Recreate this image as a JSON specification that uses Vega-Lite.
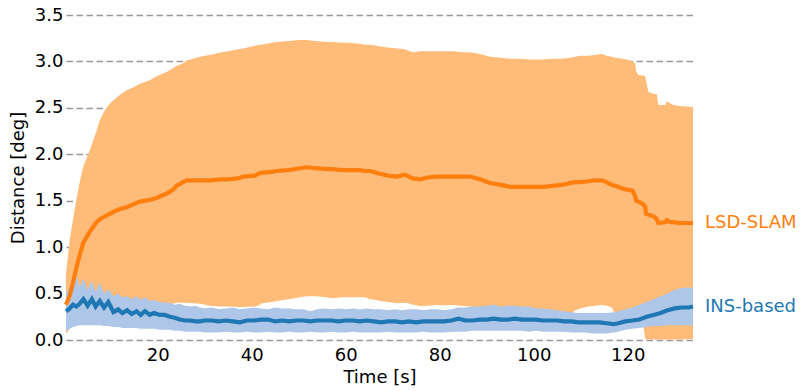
{
  "$schema": "https://vega.github.io/schema/vega-lite/v6.json",
  "width": 627,
  "height": 325,
  "autosize": {"type": "none"},
  "padding": {"left": 66, "top": 15, "right": 107, "bottom": 51},
  "datasets": {
    "lsd": [
      {"t":0.5,"lo":0.07,"m":0.38,"hi":0.72},
      {"t":1.3,"lo":0.12,"m":0.48,"hi":1.08},
      {"t":2.0,"lo":0.2,"m":0.62,"hi":1.30},
      {"t":2.8,"lo":0.22,"m":0.80,"hi":1.54},
      {"t":3.5,"lo":0.24,"m":0.93,"hi":1.72},
      {"t":4.2,"lo":0.25,"m":1.05,"hi":1.87},
      {"t":4.9,"lo":0.27,"m":1.11,"hi":1.96},
      {"t":5.6,"lo":0.29,"m":1.17,"hi":2.05},
      {"t":6.3,"lo":0.30,"m":1.22,"hi":2.15},
      {"t":7.0,"lo":0.31,"m":1.27,"hi":2.25},
      {"t":7.7,"lo":0.32,"m":1.30,"hi":2.37},
      {"t":8.7,"lo":0.33,"m":1.33,"hi":2.47},
      {"t":9.9,"lo":0.34,"m":1.36,"hi":2.55},
      {"t":11,"lo":0.35,"m":1.39,"hi":2.60},
      {"t":12,"lo":0.35,"m":1.41,"hi":2.64},
      {"t":13.4,"lo":0.36,"m":1.43,"hi":2.69},
      {"t":14.8,"lo":0.36,"m":1.46,"hi":2.72},
      {"t":16.2,"lo":0.37,"m":1.49,"hi":2.76},
      {"t":18.4,"lo":0.38,"m":1.51,"hi":2.80},
      {"t":19.8,"lo":0.38,"m":1.53,"hi":2.84},
      {"t":22,"lo":0.39,"m":1.58,"hi":2.89},
      {"t":23.3,"lo":0.39,"m":1.62,"hi":2.93},
      {"t":24,"lo":0.40,"m":1.66,"hi":2.95},
      {"t":25.4,"lo":0.40,"m":1.70,"hi":2.98},
      {"t":26.2,"lo":0.40,"m":1.72,"hi":3.01},
      {"t":29,"lo":0.39,"m":1.72,"hi":3.05},
      {"t":30.1,"lo":0.38,"m":1.72,"hi":3.06},
      {"t":31.1,"lo":0.37,"m":1.72,"hi":3.07},
      {"t":33.6,"lo":0.36,"m":1.73,"hi":3.10},
      {"t":35,"lo":0.36,"m":1.73,"hi":3.11},
      {"t":37.1,"lo":0.355,"m":1.74,"hi":3.13},
      {"t":38.2,"lo":0.355,"m":1.76,"hi":3.14},
      {"t":40.7,"lo":0.36,"m":1.77,"hi":3.17},
      {"t":41.8,"lo":0.38,"m":1.80,"hi":3.18},
      {"t":42.1,"lo":0.395,"m":1.80,"hi":3.18},
      {"t":44.3,"lo":0.41,"m":1.81,"hi":3.20},
      {"t":45.3,"lo":0.42,"m":1.82,"hi":3.21},
      {"t":47.8,"lo":0.44,"m":1.83,"hi":3.22},
      {"t":50.3,"lo":0.46,"m":1.85,"hi":3.23},
      {"t":51.7,"lo":0.47,"m":1.86,"hi":3.23},
      {"t":53.5,"lo":0.47,"m":1.85,"hi":3.22},
      {"t":56,"lo":0.46,"m":1.84,"hi":3.21},
      {"t":57,"lo":0.45,"m":1.84,"hi":3.21},
      {"t":59.5,"lo":0.46,"m":1.83,"hi":3.20},
      {"t":60.6,"lo":0.46,"m":1.83,"hi":3.20},
      {"t":63,"lo":0.46,"m":1.83,"hi":3.19},
      {"t":64.1,"lo":0.46,"m":1.82,"hi":3.18},
      {"t":65.2,"lo":0.44,"m":1.82,"hi":3.18},
      {"t":66.6,"lo":0.43,"m":1.80,"hi":3.17},
      {"t":67.3,"lo":0.42,"m":1.79,"hi":3.16},
      {"t":69,"lo":0.41,"m":1.77,"hi":3.15},
      {"t":70.9,"lo":0.395,"m":1.76,"hi":3.14},
      {"t":72.6,"lo":0.40,"m":1.78,"hi":3.13},
      {"t":73,"lo":0.40,"m":1.77,"hi":3.12},
      {"t":74.3,"lo":0.38,"m":1.74,"hi":3.10},
      {"t":75.8,"lo":0.365,"m":1.73,"hi":3.11},
      {"t":77.5,"lo":0.37,"m":1.75,"hi":3.11},
      {"t":79.4,"lo":0.377,"m":1.76,"hi":3.11},
      {"t":81,"lo":0.375,"m":1.76,"hi":3.11},
      {"t":82.9,"lo":0.377,"m":1.76,"hi":3.11},
      {"t":84.5,"lo":0.37,"m":1.76,"hi":3.10},
      {"t":86.4,"lo":0.36,"m":1.76,"hi":3.10},
      {"t":88.6,"lo":0.34,"m":1.73,"hi":3.08},
      {"t":90.7,"lo":0.31,"m":1.69,"hi":3.05},
      {"t":93,"lo":0.30,"m":1.67,"hi":3.04},
      {"t":95,"lo":0.29,"m":1.65,"hi":3.03},
      {"t":97,"lo":0.29,"m":1.65,"hi":3.03},
      {"t":99,"lo":0.28,"m":1.65,"hi":3.02},
      {"t":102,"lo":0.27,"m":1.65,"hi":3.02},
      {"t":104,"lo":0.27,"m":1.66,"hi":3.03},
      {"t":106,"lo":0.26,"m":1.67,"hi":3.03},
      {"t":107.7,"lo":0.27,"m":1.69,"hi":3.04},
      {"t":108.8,"lo":0.32,"m":1.70,"hi":3.05},
      {"t":110,"lo":0.34,"m":1.70,"hi":3.06},
      {"t":111.6,"lo":0.36,"m":1.71,"hi":3.06},
      {"t":113,"lo":0.37,"m":1.72,"hi":3.07},
      {"t":114.5,"lo":0.377,"m":1.72,"hi":3.08},
      {"t":115.5,"lo":0.37,"m":1.70,"hi":3.06},
      {"t":116.6,"lo":0.35,"m":1.67,"hi":3.05},
      {"t":117.4,"lo":0.27,"m":1.66,"hi":3.04},
      {"t":119,"lo":0.27,"m":1.63,"hi":3.03},
      {"t":119.8,"lo":0.27,"m":1.62,"hi":3.02},
      {"t":121,"lo":0.26,"m":1.61,"hi":3.00},
      {"t":121.6,"lo":0.26,"m":1.55,"hi":2.98},
      {"t":121.8,"lo":0.26,"m":1.50,"hi":2.90},
      {"t":122.3,"lo":0.25,"m":1.49,"hi":2.85},
      {"t":123.1,"lo":0.24,"m":1.47,"hi":2.85},
      {"t":123.7,"lo":0.02,"m":1.44,"hi":2.84},
      {"t":123.9,"lo":0.005,"m":1.36,"hi":2.80},
      {"t":124.4,"lo":0.005,"m":1.35,"hi":2.67},
      {"t":125.6,"lo":0.005,"m":1.33,"hi":2.65},
      {"t":126.2,"lo":0.005,"m":1.30,"hi":2.65},
      {"t":126.5,"lo":0.005,"m":1.26,"hi":2.53},
      {"t":128,"lo":0.005,"m":1.27,"hi":2.53},
      {"t":128.3,"lo":0.005,"m":1.29,"hi":2.57},
      {"t":129,"lo":0.005,"m":1.27,"hi":2.55},
      {"t":129.7,"lo":0.005,"m":1.27,"hi":2.53},
      {"t":131,"lo":0.005,"m":1.26,"hi":2.52},
      {"t":133.9,"lo":0.01,"m":1.26,"hi":2.51}
    ],
    "ins": [
      {"t":0.5,"lo":0.10,"m":0.31,"hi":0.50},
      {"t":1.3,"lo":0.12,"m":0.34,"hi":0.58},
      {"t":2.0,"lo":0.14,"m":0.38,"hi":0.61},
      {"t":2.7,"lo":0.15,"m":0.36,"hi":0.70},
      {"t":3.4,"lo":0.16,"m":0.39,"hi":0.57},
      {"t":4.2,"lo":0.16,"m":0.44,"hi":0.66},
      {"t":5.1,"lo":0.16,"m":0.37,"hi":0.54},
      {"t":6.0,"lo":0.16,"m":0.44,"hi":0.64},
      {"t":6.8,"lo":0.16,"m":0.36,"hi":0.52},
      {"t":7.7,"lo":0.16,"m":0.42,"hi":0.62},
      {"t":8.6,"lo":0.15,"m":0.35,"hi":0.50},
      {"t":9.5,"lo":0.15,"m":0.41,"hi":0.55},
      {"t":10.6,"lo":0.14,"m":0.30,"hi":0.47},
      {"t":11.6,"lo":0.14,"m":0.33,"hi":0.50},
      {"t":12.5,"lo":0.13,"m":0.29,"hi":0.46},
      {"t":13.5,"lo":0.13,"m":0.32,"hi":0.47},
      {"t":14.5,"lo":0.13,"m":0.28,"hi":0.44},
      {"t":15.5,"lo":0.13,"m":0.31,"hi":0.47},
      {"t":16.4,"lo":0.12,"m":0.27,"hi":0.43},
      {"t":17.3,"lo":0.12,"m":0.31,"hi":0.46},
      {"t":18.3,"lo":0.12,"m":0.27,"hi":0.42},
      {"t":19.2,"lo":0.12,"m":0.29,"hi":0.43},
      {"t":20.5,"lo":0.11,"m":0.27,"hi":0.41},
      {"t":21.5,"lo":0.11,"m":0.27,"hi":0.40},
      {"t":22.6,"lo":0.11,"m":0.25,"hi":0.40},
      {"t":23.6,"lo":0.10,"m":0.24,"hi":0.38},
      {"t":24.7,"lo":0.10,"m":0.22,"hi":0.39},
      {"t":25.8,"lo":0.09,"m":0.21,"hi":0.37},
      {"t":27,"lo":0.09,"m":0.21,"hi":0.36},
      {"t":28,"lo":0.09,"m":0.20,"hi":0.37},
      {"t":29,"lo":0.09,"m":0.20,"hi":0.35},
      {"t":30,"lo":0.08,"m":0.21,"hi":0.34},
      {"t":31.5,"lo":0.08,"m":0.21,"hi":0.35},
      {"t":33,"lo":0.08,"m":0.20,"hi":0.33},
      {"t":34.5,"lo":0.09,"m":0.21,"hi":0.34},
      {"t":36,"lo":0.08,"m":0.20,"hi":0.35},
      {"t":37.5,"lo":0.08,"m":0.19,"hi":0.33},
      {"t":39,"lo":0.09,"m":0.21,"hi":0.34},
      {"t":40.5,"lo":0.08,"m":0.21,"hi":0.35},
      {"t":42,"lo":0.08,"m":0.22,"hi":0.34},
      {"t":43.5,"lo":0.09,"m":0.22,"hi":0.33},
      {"t":45,"lo":0.08,"m":0.20,"hi":0.35},
      {"t":46.5,"lo":0.08,"m":0.21,"hi":0.34},
      {"t":48,"lo":0.09,"m":0.20,"hi":0.34},
      {"t":49.5,"lo":0.08,"m":0.21,"hi":0.33},
      {"t":51,"lo":0.08,"m":0.21,"hi":0.33},
      {"t":52.5,"lo":0.09,"m":0.20,"hi":0.31},
      {"t":54,"lo":0.08,"m":0.21,"hi":0.33},
      {"t":55.5,"lo":0.08,"m":0.21,"hi":0.34},
      {"t":57,"lo":0.09,"m":0.21,"hi":0.33},
      {"t":58.5,"lo":0.08,"m":0.20,"hi":0.34},
      {"t":60,"lo":0.08,"m":0.21,"hi":0.33},
      {"t":61.5,"lo":0.09,"m":0.21,"hi":0.34},
      {"t":63,"lo":0.08,"m":0.20,"hi":0.33},
      {"t":64.5,"lo":0.08,"m":0.21,"hi":0.34},
      {"t":66,"lo":0.08,"m":0.20,"hi":0.33},
      {"t":67.5,"lo":0.08,"m":0.19,"hi":0.33},
      {"t":69,"lo":0.09,"m":0.20,"hi":0.32},
      {"t":70.5,"lo":0.08,"m":0.20,"hi":0.33},
      {"t":72,"lo":0.08,"m":0.19,"hi":0.32},
      {"t":73.5,"lo":0.08,"m":0.20,"hi":0.33},
      {"t":75,"lo":0.08,"m":0.19,"hi":0.33},
      {"t":76.5,"lo":0.09,"m":0.20,"hi":0.32},
      {"t":78,"lo":0.08,"m":0.20,"hi":0.33},
      {"t":79.5,"lo":0.08,"m":0.20,"hi":0.33},
      {"t":81,"lo":0.08,"m":0.20,"hi":0.32},
      {"t":82.5,"lo":0.09,"m":0.21,"hi":0.33},
      {"t":84,"lo":0.09,"m":0.23,"hi":0.35},
      {"t":85.5,"lo":0.09,"m":0.21,"hi":0.35},
      {"t":87,"lo":0.10,"m":0.21,"hi":0.36},
      {"t":88.5,"lo":0.10,"m":0.22,"hi":0.36},
      {"t":90,"lo":0.10,"m":0.22,"hi":0.37},
      {"t":91.5,"lo":0.10,"m":0.23,"hi":0.38},
      {"t":93,"lo":0.10,"m":0.22,"hi":0.36},
      {"t":94.5,"lo":0.10,"m":0.22,"hi":0.37},
      {"t":96,"lo":0.10,"m":0.23,"hi":0.37},
      {"t":97.5,"lo":0.10,"m":0.22,"hi":0.36},
      {"t":99,"lo":0.09,"m":0.22,"hi":0.36},
      {"t":100.5,"lo":0.10,"m":0.22,"hi":0.34},
      {"t":102,"lo":0.09,"m":0.21,"hi":0.34},
      {"t":103.5,"lo":0.09,"m":0.21,"hi":0.33},
      {"t":105,"lo":0.09,"m":0.21,"hi":0.32},
      {"t":106.5,"lo":0.09,"m":0.20,"hi":0.31},
      {"t":108,"lo":0.08,"m":0.20,"hi":0.30},
      {"t":109.5,"lo":0.08,"m":0.19,"hi":0.29},
      {"t":111,"lo":0.08,"m":0.19,"hi":0.29},
      {"t":112.5,"lo":0.07,"m":0.19,"hi":0.29},
      {"t":114,"lo":0.07,"m":0.19,"hi":0.29},
      {"t":115.5,"lo":0.07,"m":0.18,"hi":0.29},
      {"t":117,"lo":0.08,"m":0.17,"hi":0.30},
      {"t":118,"lo":0.09,"m":0.18,"hi":0.31},
      {"t":119.5,"lo":0.11,"m":0.20,"hi":0.33},
      {"t":121,"lo":0.12,"m":0.21,"hi":0.35},
      {"t":122.5,"lo":0.13,"m":0.22,"hi":0.38},
      {"t":124,"lo":0.14,"m":0.25,"hi":0.41},
      {"t":125.5,"lo":0.15,"m":0.27,"hi":0.44},
      {"t":127,"lo":0.15,"m":0.29,"hi":0.47},
      {"t":128.5,"lo":0.16,"m":0.32,"hi":0.50},
      {"t":130,"lo":0.16,"m":0.34,"hi":0.54},
      {"t":131.5,"lo":0.16,"m":0.35,"hi":0.56},
      {"t":133,"lo":0.16,"m":0.35,"hi":0.565},
      {"t":133.9,"lo":0.16,"m":0.36,"hi":0.56}
    ],
    "labels": [
      {"t":133.9,"v":1.26,"label":"LSD-SLAM","series":"LSD-SLAM"},
      {"t":133.9,"v":0.36,"label":"INS-based","series":"INS-based"}
    ]
  },
  "layer": [
    {
      "data": {"name": "lsd"},
      "mark": {"type": "area", "color": "#ffbb78", "opacity": 1},
      "encoding": {
        "x": {"field": "t", "type": "quantitative", "scale": {"domain": [0.5, 133.9], "nice": false, "zero": false}, "axis": {"title": "Time [s]", "values": [20, 40, 60, 80, 100, 120]}},
        "y": {"field": "lo", "type": "quantitative", "scale": {"domain": [0, 3.5], "nice": false}, "axis": {"title": "Distance [deg]", "values": [0, 0.5, 1, 1.5, 2, 2.5, 3, 3.5], "format": ".1f"}},
        "y2": {"field": "hi"}
      }
    },
    {
      "data": {"name": "ins"},
      "mark": {"type": "area", "color": "#aec7e8", "opacity": 1},
      "encoding": {
        "x": {"field": "t", "type": "quantitative"},
        "y": {"field": "lo", "type": "quantitative", "axis": {"title": "Distance [deg]"}},
        "y2": {"field": "hi"}
      }
    },
    {
      "data": {"name": "lsd"},
      "mark": {"type": "line", "color": "#ff7f0e", "strokeWidth": 4.2},
      "encoding": {
        "x": {"field": "t", "type": "quantitative"},
        "y": {"field": "m", "type": "quantitative", "axis": {"title": "Distance [deg]"}}
      }
    },
    {
      "data": {"name": "ins"},
      "mark": {"type": "line", "color": "#1f77b4", "strokeWidth": 4.2},
      "encoding": {
        "x": {"field": "t", "type": "quantitative"},
        "y": {"field": "m", "type": "quantitative", "axis": {"title": "Distance [deg]"}}
      }
    },
    {
      "data": {"name": "labels"},
      "mark": {"type": "text", "align": "left", "baseline": "middle", "dx": 12, "font": "DejaVu Sans", "fontSize": 18},
      "encoding": {
        "x": {"field": "t", "type": "quantitative"},
        "y": {"field": "v", "type": "quantitative", "axis": {"title": "Distance [deg]"}},
        "text": {"field": "label"},
        "color": {"field": "series", "type": "nominal", "scale": {"domain": ["LSD-SLAM", "INS-based"], "range": ["#ff7f0e", "#1f77b4"]}, "legend": null}
      }
    }
  ],
  "config": {
    "view": {"stroke": null},
    "axis": {
      "domain": false,
      "ticks": false,
      "tickSize": 0,
      "labelFont": "DejaVu Sans",
      "titleFont": "DejaVu Sans",
      "labelFontSize": 18,
      "titleFontSize": 18,
      "labelColor": "#000000",
      "titleColor": "#000000",
      "titleFontWeight": "normal"
    },
    "axisY": {"grid": true, "gridDash": [6.5, 3.5], "gridColor": "#999999", "gridWidth": 1.3, "labelPadding": 3, "titlePadding": 7, "zindex": 1},
    "axisX": {"grid": false, "labelPadding": 6, "titlePadding": 4}
  }
}
